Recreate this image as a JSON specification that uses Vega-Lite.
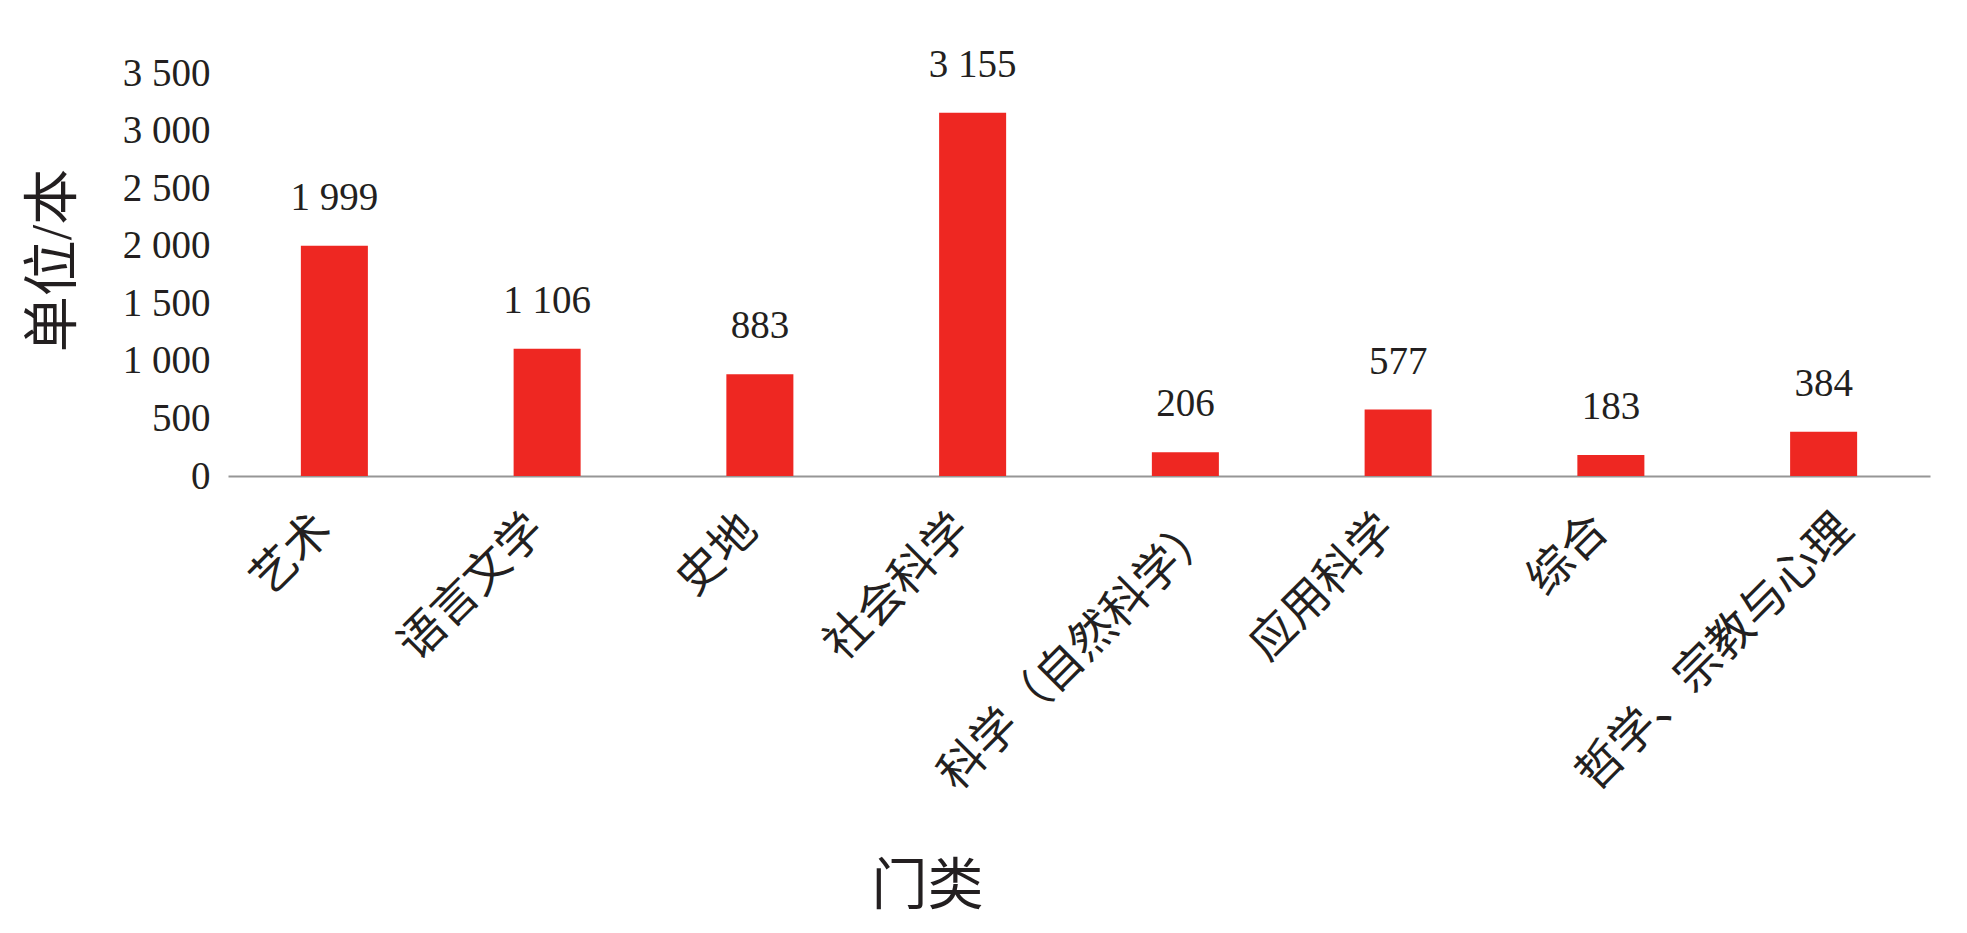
{
  "$schema": "https://vega.github.io/schema/vega-lite/v6.json",
  "background": "white",
  "autosize": {"type": "none"},
  "padding": {"left": 228, "top": 73, "right": 37, "bottom": 457},
  "width": 1702,
  "height": 403,
  "config": {
    "view": {"stroke": null},
    "locale": {"number": {"decimal": ".", "thousands": " ", "grouping": [3], "currency": ["", ""]}},
    "font": "Liberation Serif, Noto Sans CJK SC"
  },
  "data": {
    "values": [
      {"category": "艺术", "count": 1999},
      {"category": "语言文学", "count": 1106},
      {"category": "史地", "count": 883},
      {"category": "社会科学", "count": 3155},
      {"category": "科学（自然科学）", "count": 206},
      {"category": "应用科学", "count": 577},
      {"category": "综合", "count": 183},
      {"category": "哲学、宗教与心理", "count": 384}
    ]
  },
  "encoding": {
    "x": {
      "field": "category",
      "type": "nominal",
      "sort": null,
      "title": "门类",
      "scale": {"paddingInner": 0.685, "paddingOuter": 0.3425},
      "axis": {
        "labelAngle": -45,
        "labelAlign": "right",
        "labelBaseline": "middle",
        "labelPadding": 46,
        "labelOffset": {"condition": {"test": "length(datum.value) >= 8", "value": 22}, "value": -10},
        "labelLimit": 0,
        "labelFontSize": 46,
        "labelColor": "#231f20",
        "labelFont": "Liberation Serif, Noto Sans CJK SC",
        "ticks": false,
        "domainColor": "#969696",
        "domainWidth": 2,
        "titleFontSize": 56,
        "titleFontWeight": "normal",
        "titleColor": "#231f20",
        "titleX": 699,
        "titleY": 410,
        "titleAlign": "center",
        "titleBaseline": "middle"
      }
    },
    "y": {
      "field": "count",
      "type": "quantitative",
      "title": "单位/本",
      "scale": {"domain": [0, 3500], "nice": false},
      "axis": {
        "values": [0, 500, 1000, 1500, 2000, 2500, 3000, 3500],
        "format": ",d",
        "grid": false,
        "domain": false,
        "ticks": false,
        "labelPadding": 18,
        "labelFontSize": 39,
        "labelColor": "#231f20",
        "titleFontSize": 56,
        "titleFontWeight": "normal",
        "titleColor": "#231f20",
        "titleAngle": 270,
        "titleX": -175,
        "titleY": 187,
        "titleAlign": "center",
        "titleBaseline": "middle"
      }
    }
  },
  "layer": [
    {"mark": {"type": "bar", "color": "#ee2722"}},
    {
      "mark": {"type": "text", "baseline": "alphabetic", "dy": -36, "fontSize": 39, "color": "#231f20"},
      "encoding": {"text": {"field": "count", "type": "quantitative", "format": ",d"}}
    }
  ]
}
